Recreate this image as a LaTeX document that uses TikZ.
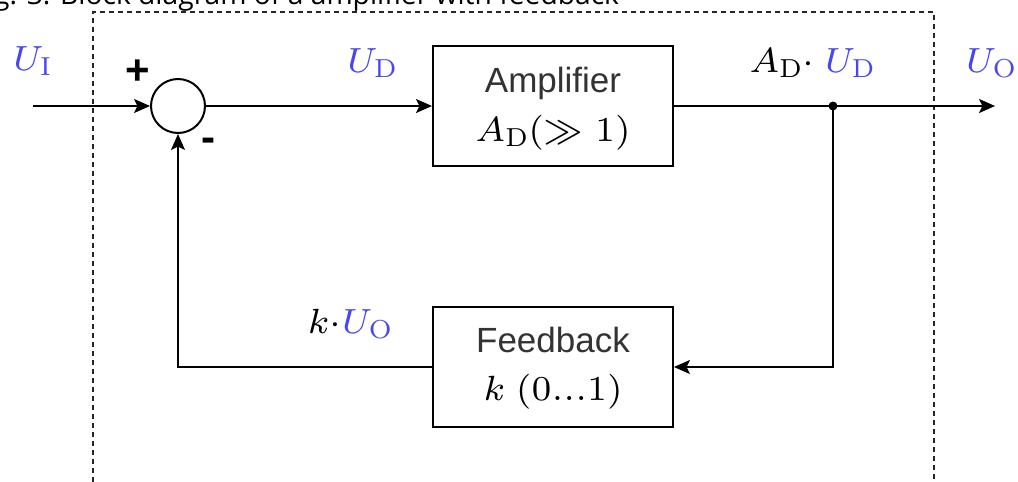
\documentclass[tikz,border=0pt]{standalone}
\usepackage[no-math]{fontspec}
\DeclareFontShape{OML}{cmm}{m}{it}{<->cmmi7}{}
\DeclareFontShape{OMS}{cmsy}{m}{n}{<->cmsy7}{}
\DeclareFontShape{OT1}{cmr}{m}{n}{<->cmr7}{}
\DeclareFontShape{OMX}{cmex}{m}{n}{<->cmex10}{}
\DeclareMathSizes{35}{35}{26}{20}
\newfontfamily\boxfont{Liberation Sans}
\newfontfamily\capfont{Open Sans}
\usetikzlibrary{arrows.meta}
\definecolor{ublue}{RGB}{70,70,245}
\begin{document}
\begin{tikzpicture}[x=1pt,y=-1pt, line width=2pt,
  >={Stealth[length=16pt,width=14pt,inset=3.5pt]},
  blk/.style={draw, minimum width=240pt, minimum height=120pt, inner sep=0pt},
  btxt/.style={font=\boxfont\fontsize{35}{42}\selectfont, text=black!80, anchor=base, inner sep=0pt},
  lbl/.style={font=\fontsize{35}{42}\selectfont, anchor=base, inner sep=0pt},
  sgn/.style={font=\boxfont\bfseries\fontsize{42}{48}\selectfont, inner sep=0pt},
  frame/.style={dash pattern=on 5pt off 4pt, line width=1.3pt, black!85}]
\useasboundingbox (0,0) rectangle (1018,482);
\clip (0,0) rectangle (1018,482);
% caption (cut off at the top)
\node[font=\capfont\fontsize{28.2}{32}\selectfont, anchor=base east, inner sep=0pt] (cap) at (620,4) {Fig. 3: Block diagram of a amplifier with feedback};
% dashed frame
\coordinate (f1) at (93,500);
\coordinate (f2) at (93,12);
\coordinate (f3) at (934,12);
\coordinate (f4) at (934,500);
\draw[frame] (f1) -- (f2) -- (f3) -- (f4);
% blocks
\node[draw, circle, minimum size=54pt, inner sep=0pt] (sum) at (178,106) {};
\node[blk] (amp) at (553,106) {};
\node[btxt] (amp1) at (553,92) {Amplifier};
\node[lbl] (amp2) at (553,141) {$A_\mathrm{D}(\gg 1)$};
\node[blk] (fb) at (553,367) {};
\node[btxt] (fb1) at (553,352) {Feedback};
\node[lbl] (fb2) at (553,400) {$k\ (0...1)$};
\coordinate (in) at (33,106);
\coordinate (out) at (995,106);
\node[circle, fill, minimum size=9pt, inner sep=0pt] (split) at (833,106) {};
% connectors
\draw[->] (in) -- (sum);
\draw[->] (sum) -- (amp);
\draw[->] (amp.east) -- (out);
\draw[->] (split.center) |- (fb.east);
\draw[->] (fb.west) -| (sum.south);
% labels
\node[lbl, text=ublue] (lui) at (32,70) {$U_\mathrm{I}$};
\node[sgn] (plus) at (138,72) {+};
\node[sgn] (minus) at (208,145) {-};
\node[lbl, text=ublue] (lud) at (372,72) {$U_\mathrm{D}$};
\node[lbl] (lad) at (812,72) {$A_\mathrm{D}{\cdot}$ \textcolor{ublue}{$U_\mathrm{D}$}};
\node[lbl, text=ublue] (luo) at (991,72) {$U_\mathrm{O}$};
\node[lbl] (lku) at (350,333) {$k{\cdot}$\textcolor{ublue}{$U_\mathrm{O}$}};
\end{tikzpicture}
\end{document}
